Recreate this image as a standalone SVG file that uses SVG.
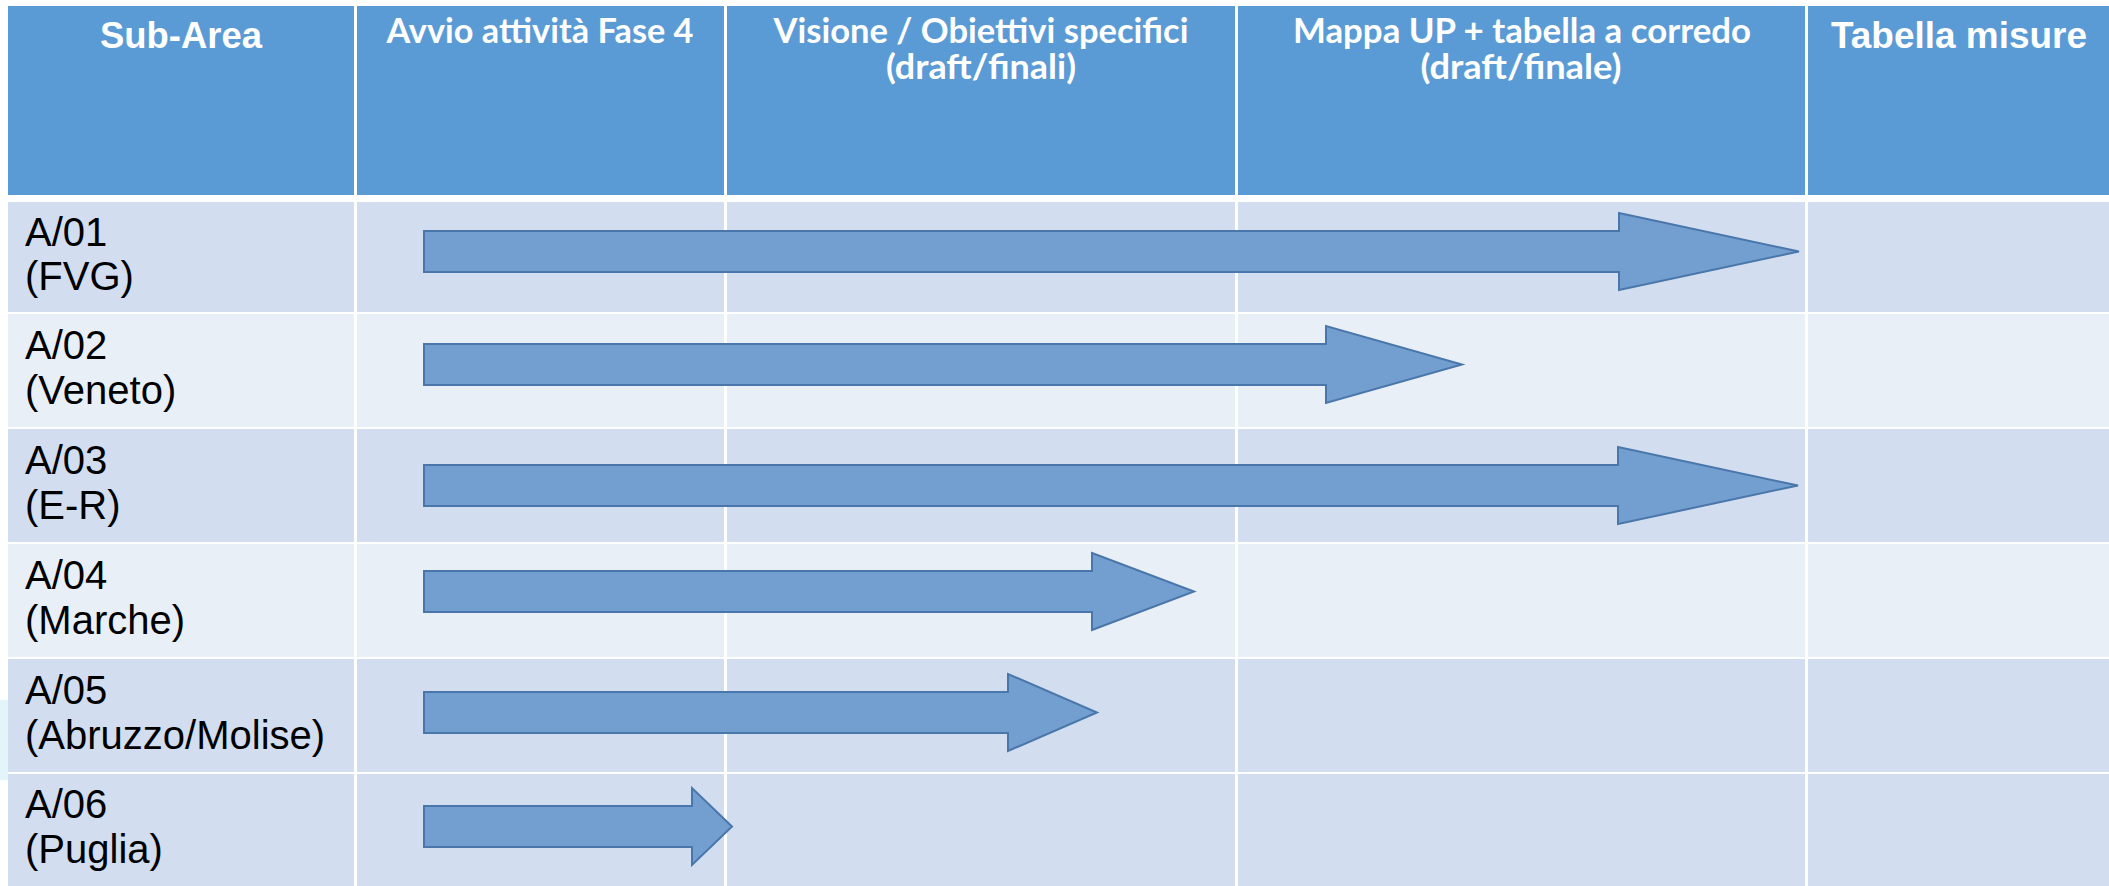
<svg xmlns="http://www.w3.org/2000/svg" width="2109" height="886" viewBox="0 0 2109 886">
  <style>
    .hdr { fill: #5B9BD5; }
    .dark { fill: #D2DEEF; }
    .light { fill: #E9EFF7; }
    .harial { font-family: "Liberation Sans", Arial, sans-serif; font-weight: bold; font-size: 36.7px; fill: #FFFFFF; text-anchor: middle; }
    .hcal { font-family: Lato, "Liberation Sans", sans-serif; font-weight: bold; font-size: 33.5px; fill: #FFFFFF; text-anchor: middle; }
    .lbl { font-family: "Liberation Sans", Arial, sans-serif; font-size: 40px; fill: #000000; }
    .bar { fill: #729FCF; stroke: #4A77AB; stroke-width: 2; stroke-linejoin: miter; }
  </style>
  <rect x="0" y="0" width="2109" height="886" fill="#FFFFFF"/>
  <rect x="0" y="700" width="8" height="80" fill="#E3F5FA"/>

  <g id="header">
    <g id="h-subarea">
      <rect class="hdr" x="8" y="6" width="346" height="189"/>
      <text class="harial" x="181" y="48" textLength="162" lengthAdjust="spacingAndGlyphs">Sub-Area</text>
    </g>
    <g id="h-avvio">
      <rect class="hdr" x="357" y="6" width="367" height="189"/>
      <text class="hcal" x="540" y="43" textLength="307" lengthAdjust="spacingAndGlyphs">Avvio attività Fase 4</text>
    </g>
    <g id="h-visione">
      <rect class="hdr" x="727" y="6" width="508" height="189"/>
      <text class="hcal" x="981" y="43" textLength="415" lengthAdjust="spacingAndGlyphs">Visione / Obiettivi specifici</text>
      <text class="hcal" x="981" y="79" textLength="190" lengthAdjust="spacingAndGlyphs">(draft/finali)</text>
    </g>
    <g id="h-mappa">
      <rect class="hdr" x="1238" y="6" width="567" height="189"/>
      <text class="hcal" x="1522" y="43" textLength="458" lengthAdjust="spacingAndGlyphs">Mappa UP + tabella a corredo</text>
      <text class="hcal" x="1521" y="79" textLength="201" lengthAdjust="spacingAndGlyphs">(draft/finale)</text>
    </g>
    <g id="h-tabella">
      <rect class="hdr" x="1808" y="6" width="301" height="189"/>
      <text class="harial" x="1959" y="48" textLength="256" lengthAdjust="spacingAndGlyphs">Tabella misure</text>
    </g>
  </g>

  <g id="row-a01">
    <rect class="dark" x="8" y="202" width="346" height="110"/>
    <rect class="dark" x="357" y="202" width="367" height="110"/>
    <rect class="dark" x="727" y="202" width="508" height="110"/>
    <rect class="dark" x="1238" y="202" width="567" height="110"/>
    <rect class="dark" x="1808" y="202" width="301" height="110"/>
    <text class="lbl" x="25" y="246">A/01</text>
    <text class="lbl" x="25" y="290">(FVG)</text>
  </g>
  <g id="row-a02">
    <rect class="light" x="8" y="314" width="346" height="113"/>
    <rect class="light" x="357" y="314" width="367" height="113"/>
    <rect class="light" x="727" y="314" width="508" height="113"/>
    <rect class="light" x="1238" y="314" width="567" height="113"/>
    <rect class="light" x="1808" y="314" width="301" height="113"/>
    <text class="lbl" x="25" y="359">A/02</text>
    <text class="lbl" x="25" y="404">(Veneto)</text>
  </g>
  <g id="row-a03">
    <rect class="dark" x="8" y="429" width="346" height="113"/>
    <rect class="dark" x="357" y="429" width="367" height="113"/>
    <rect class="dark" x="727" y="429" width="508" height="113"/>
    <rect class="dark" x="1238" y="429" width="567" height="113"/>
    <rect class="dark" x="1808" y="429" width="301" height="113"/>
    <text class="lbl" x="25" y="474">A/03</text>
    <text class="lbl" x="25" y="519">(E-R)</text>
  </g>
  <g id="row-a04">
    <rect class="light" x="8" y="544" width="346" height="113"/>
    <rect class="light" x="357" y="544" width="367" height="113"/>
    <rect class="light" x="727" y="544" width="508" height="113"/>
    <rect class="light" x="1238" y="544" width="567" height="113"/>
    <rect class="light" x="1808" y="544" width="301" height="113"/>
    <text class="lbl" x="25" y="589">A/04</text>
    <text class="lbl" x="25" y="634">(Marche)</text>
  </g>
  <g id="row-a05">
    <rect class="dark" x="8" y="659" width="346" height="113"/>
    <rect class="dark" x="357" y="659" width="367" height="113"/>
    <rect class="dark" x="727" y="659" width="508" height="113"/>
    <rect class="dark" x="1238" y="659" width="567" height="113"/>
    <rect class="dark" x="1808" y="659" width="301" height="113"/>
    <text class="lbl" x="25" y="704">A/05</text>
    <text class="lbl" x="25" y="749">(Abruzzo/Molise)</text>
  </g>
  <g id="row-a06">
    <rect class="dark" x="8" y="774" width="346" height="112"/>
    <rect class="dark" x="357" y="774" width="367" height="112"/>
    <rect class="dark" x="727" y="774" width="508" height="112"/>
    <rect class="dark" x="1238" y="774" width="567" height="112"/>
    <rect class="dark" x="1808" y="774" width="301" height="112"/>
    <text class="lbl" x="25" y="818">A/06</text>
    <text class="lbl" x="25" y="863">(Puglia)</text>
  </g>

  <g id="bars">
    <path id="bar-a01" class="bar" d="M424,231 H1619 V213 L1799,251.5 L1619,290 V272 H424 Z"/>
    <path id="bar-a02" class="bar" d="M424,344 H1326 V326 L1462,364.5 L1326,403 V385 H424 Z"/>
    <path id="bar-a03" class="bar" d="M424,465 H1618 V447 L1798,485.5 L1618,524 V506 H424 Z"/>
    <path id="bar-a04" class="bar" d="M424,571 H1092 V553 L1194,591.5 L1092,630 V612 H424 Z"/>
    <path id="bar-a05" class="bar" d="M424,692 H1008 V674 L1097,712.5 L1008,751 V733 H424 Z"/>
    <path id="bar-a06" class="bar" d="M424,806 H692 V788 L732,826.5 L692,865 V847 H424 Z"/>
  </g>
</svg>
